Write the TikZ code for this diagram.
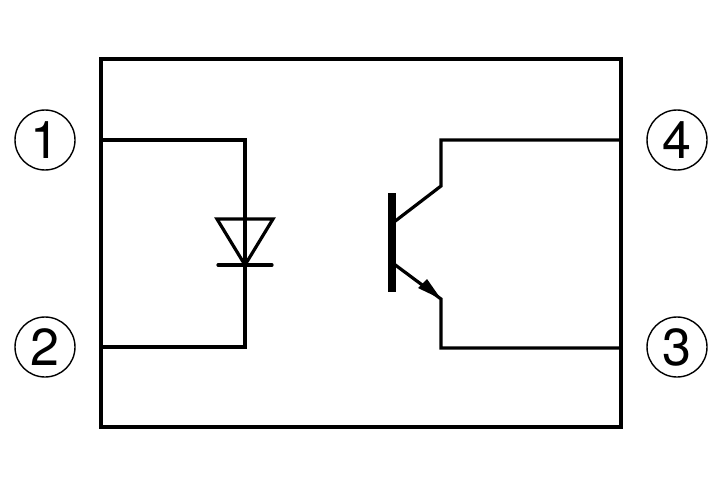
\documentclass[tikz,border=0pt]{standalone}
\usepackage{fontspec}
\setmainfont{TeX Gyre Heros}

\begin{document}
\begin{tikzpicture}[x=1pt,y=-1pt]
\tikzstyle{wire}=[line width=3.2pt,line cap=round,line join=miter]
\tikzstyle{pin}=[circle,draw,line width=1.4pt,minimum size=60pt,inner sep=0pt,font=\fontsize{52}{52}\selectfont]
\useasboundingbox (0,0) rectangle (727,500);
\node[pin] (pinone) at (45,140) {1};
\node[pin] (pintwo) at (45,347) {2};
\node[pin] (pinfour) at (677,140) {4};
\node[pin] (pinthree) at (677,347) {3};
\draw[wire] (101,59) rectangle (621,427);
% diode side
\coordinate (anode) at (245,219);
\coordinate (cathode) at (245,265);
\draw[wire] (101,140) -| (anode) -- (cathode) |- (101,347);
\draw[wire] (217,219) -- (273,219) -- (cathode) -- cycle;
\draw[wire] (218,265) -- (272,265);
% transistor side
\draw[line width=8pt] (391.7,193) -- (391.7,292);
\draw[wire] (394,222) -- (441,186) -- (441,140) -- (621,140);
\draw[wire] (394,264) -- (441,299) -- (441,348) -- (621,348);
\fill (441,299) -- (418,288) -- (427,279) -- cycle;
\end{tikzpicture}
\end{document}
